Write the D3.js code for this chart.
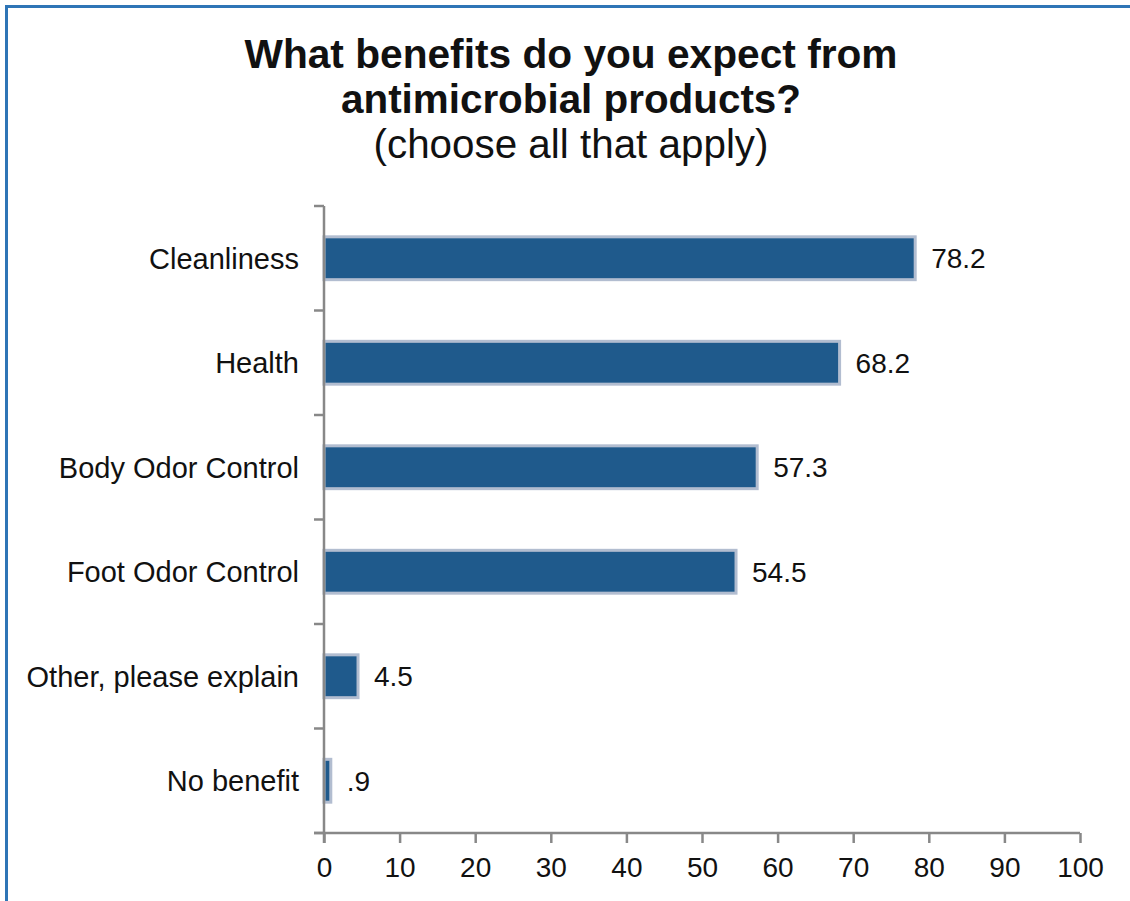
<!DOCTYPE html>
<html>
<head>
<meta charset="utf-8">
<script src="https://cdn.jsdelivr.net/npm/d3@7"></script>
<style>
  body { margin: 0; background: #fff; }
  svg text { font-family: Arial, "Liberation Sans", sans-serif; fill: #111; }
</style>
</head>
<body>
<div id="app"></div>
<script>
var w = 1130;
var h = 901;

// data
const categories = ["Cleanliness", "Health", "Body Odor Control", "Foot Odor Control", "Other, please explain", "No benefit"];
const values = [78.2, 68.2, 57.3, 54.5, 4.5, 0.9];
const xTicks = [0, 10, 20, 30, 40, 50, 60, 70, 80, 90, 100];
const titleLines = ["What benefits do you expect from", "antimicrobial products?", "(choose all that apply)"];

const data = categories.map((c, i) => ({ name: c, value: values[i] }));

const svg = d3.select("#app")
    .append("svg")
    .attr("width", w)
    .attr("height", h);

// blue frame, runs off the right and bottom
svg.append("rect")
    .attr("x", 6.5)
    .attr("y", 6.5)
    .attr("width", 1300)
    .attr("height", 1100)
    .attr("fill", "none")
    .attr("stroke", "#2e75b6")
    .attr("stroke-width", 3);

// title
const titleW = [653, 460, 395];
svg.selectAll(".title")
    .data(titleLines)
    .enter()
    .append("text")
    .attr("class", "title")
    .attr("x", 571)
    .attr("y", (d, i) => 68 + i * 45)
    .attr("text-anchor", "middle")
    .attr("textLength", (d, i) => titleW[i])
    .attr("lengthAdjust", "spacingAndGlyphs")
    .style("font-size", "41px")
    .style("font-weight", (d, i) => i < 2 ? "bold" : "normal")
    .text(d => d);

const xScale = d3.scaleLinear()
    .domain([0, 100])
    .range([324, 1080]);

const yScale = d3.scaleBand()
    .domain(categories)
    .range([206, 833])
    .paddingInner(0.59)
    .paddingOuter(0.295);

// bars
svg.selectAll(".bar")
    .data(data)
    .enter()
    .append("rect")
    .attr("class", "bar")
    .attr("x", xScale(0))
    .attr("y", d => yScale(d.name))
    .attr("width", d => xScale(d.value) - xScale(0))
    .attr("height", yScale.bandwidth())
    .attr("fill", "#1f5a8c")
    .attr("stroke", "#b2bdd0")
    .attr("stroke-width", 3);

// value labels
const fmt = v => v < 1 ? String(v).replace(/^0/, "") : v.toFixed(1);
svg.selectAll(".val")
    .data(data)
    .enter()
    .append("text")
    .attr("class", "val")
    .attr("x", d => xScale(d.value) + 16)
    .attr("y", d => yScale(d.name) + yScale.bandwidth() / 2)
    .attr("dy", "0.36em")
    .style("font-size", "28px")
    .text(d => fmt(d.value));

// category labels
svg.selectAll(".cat")
    .data(categories)
    .enter()
    .append("text")
    .attr("class", "cat")
    .attr("x", 299)
    .attr("y", d => yScale(d) + yScale.bandwidth() / 2)
    .attr("dy", "0.36em")
    .attr("text-anchor", "end")
    .style("font-size", "29px")
    .text(d => d);

// y axis: line + ticks on band boundaries
const step = yScale.step();
const bounds = categories.map(c => yScale(c) - step * yScale.paddingInner() / 2);
bounds.push(yScale.range()[1]);

const axisColor = "#888";
svg.append("line")
    .attr("x1", xScale(0)).attr("x2", xScale(0))
    .attr("y1", bounds[0]).attr("y2", yScale.range()[1] + 10)
    .attr("stroke", axisColor)
    .attr("stroke-width", 2.5);

svg.selectAll(".ytick")
    .data(bounds)
    .enter()
    .append("line")
    .attr("class", "ytick")
    .attr("x1", xScale(0) - 10).attr("x2", xScale(0))
    .attr("y1", d => d).attr("y2", d => d)
    .attr("stroke", axisColor)
    .attr("stroke-width", 2.5);

// x axis
const xAxis = d3.axisBottom(xScale)
    .tickValues(xTicks)
    .tickSize(10)
    .tickSizeOuter(0)
    .tickPadding(14);

const gx = svg.append("g")
    .attr("id", "x-axis")
    .attr("transform", "translate(0," + 833 + ")")
    .call(xAxis);

gx.select(".domain")
    .attr("d", "M" + (xScale(0) - 10) + ",0H" + xScale(100))
    .attr("stroke", axisColor)
    .attr("stroke-width", 2.5);
gx.selectAll(".tick line")
    .attr("stroke", axisColor)
    .attr("stroke-width", 2.5);
gx.selectAll(".tick text")
    .style("font-size", "28px")
    .style("font-family", "Arial, 'Liberation Sans', sans-serif")
    .attr("fill", "#111");
</script>
</body>
</html>
